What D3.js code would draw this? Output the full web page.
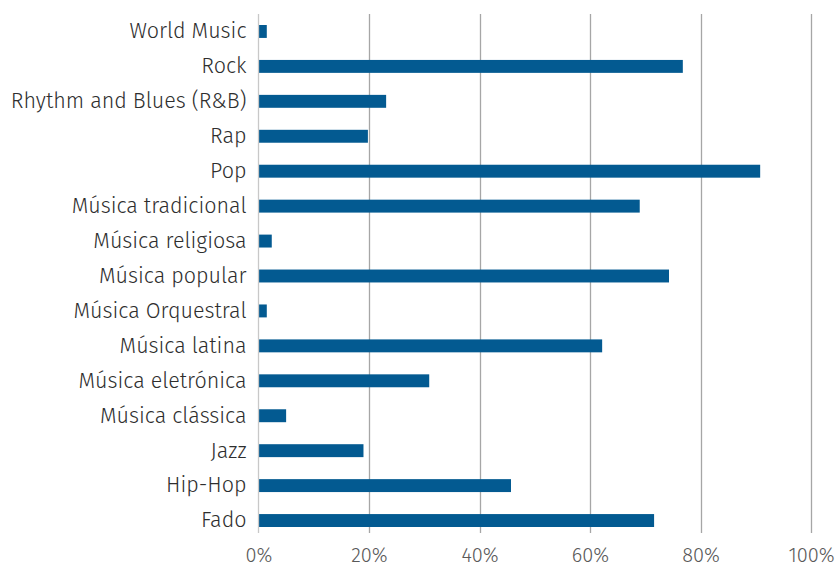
<!DOCTYPE html>
<html>
<head>
<meta charset="utf-8">
<script src="https://cdn.jsdelivr.net/npm/d3@7/dist/d3.min.js"></script>
<style>
  html, body { margin: 0; padding: 0; background: #fff; }
  svg { display: block; }
  .cat { font-family: "Fira Sans", "Noto Sans", sans-serif; font-weight: 300; }
  .val { font-family: "Fira Sans", "Noto Sans", sans-serif; font-weight: 300; }
</style>
</head>
<body>
<svg id="chart" width="838" height="568"></svg>
<script>
// Music genres (top to bottom) and share of respondents
const genres = [
  "World Music", "Rock", "Rhythm and Blues (R&B)", "Rap", "Pop",
  "Música tradicional", "Música religiosa", "Música popular",
  "Música Orquestral", "Música latina", "Música eletrónica",
  "Música clássica", "Jazz", "Hip-Hop", "Fado"
];
const shares = [
  0.015, 0.768, 0.231, 0.198, 0.908,
  0.690, 0.024, 0.743,
  0.015, 0.622, 0.309,
  0.050, 0.190, 0.457, 0.716
];
const xTicks = [0, 0.2, 0.4, 0.6, 0.8, 1.0];

const svg = d3.select("#chart");
const margin = { top: 14, right: 27, bottom: 30, left: 258.5 };
const W = 838, H = 568;
const innerBottom = 538;

const x = d3.scaleLinear().domain([0, 1]).range([margin.left, W - margin.right]);
const y = d3.scaleBand().domain(genres).range([margin.top, innerBottom]).paddingInner(0.63).paddingOuter(0.315);

// vertical gridlines
svg.append("g")
  .selectAll("line")
  .data(xTicks.slice(1))
  .join("line")
  .attr("x1", d => Math.round(x(d)) + 0.5)
  .attr("x2", d => Math.round(x(d)) + 0.5)
  .attr("y1", margin.top)
  .attr("y2", innerBottom - 5)
  .attr("stroke", "#a6a6a6")
  .attr("stroke-width", 1.3);

// bars
svg.append("g")
  .selectAll("rect")
  .data(genres)
  .join("rect")
  .attr("x", x(0))
  .attr("y", d => y(d))
  .attr("width", (d, i) => x(shares[i]) - x(0))
  .attr("height", y.bandwidth())
  .attr("fill", "#035a91");

// category axis line
svg.append("line")
  .attr("x1", Math.round(x(0)) - 0.5)
  .attr("x2", Math.round(x(0)) - 0.5)
  .attr("y1", margin.top)
  .attr("y2", innerBottom - 5)
  .attr("stroke", "#c8c8c8")
  .attr("stroke-width", 1.3);

// category labels
const yAxis = d3.axisLeft(y).tickSize(0).tickPadding(12);
const gy = svg.append("g").attr("transform", `translate(${x(0)},0)`).call(yAxis);
gy.select(".domain").remove();
gy.selectAll("text")
  .attr("class", "cat")
  .attr("font-size", 21.5)
  .attr("fill", "#2e2e2e");

// value axis labels
const xAxis = d3.axisBottom(x).tickValues(xTicks).tickFormat(d3.format(".0%")).tickSize(0).tickPadding(9);
const gx = svg.append("g").attr("transform", `translate(0,${innerBottom + 1})`).call(xAxis);
gx.select(".domain").remove();
gx.selectAll("text")
  .attr("class", "val")
  .attr("font-size", 20)
  .attr("fill", "#595959");
</script>
</body>
</html>
